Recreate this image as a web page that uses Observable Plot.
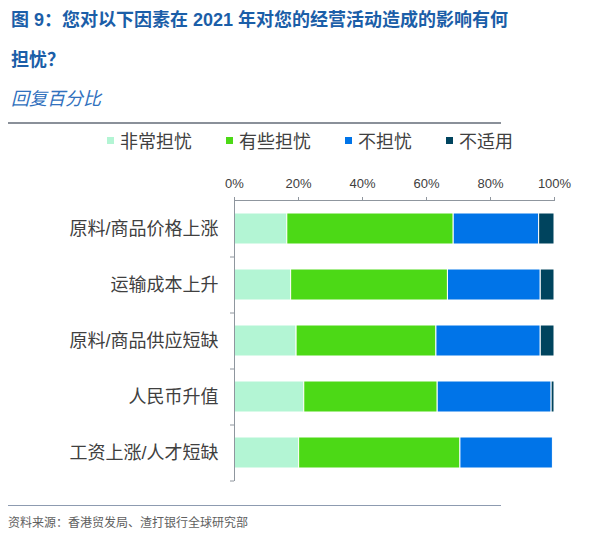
<!DOCTYPE html>
<html>
<head>
<meta charset="utf-8">
<script src="https://cdn.jsdelivr.net/npm/d3@7"></script>
<script src="https://cdn.jsdelivr.net/npm/@observablehq/plot@0.6"></script>
<style>
  html, body { margin: 0; padding: 0; background: #fff; }
  body { width: 616px; height: 554px; position: relative; overflow: hidden;
         font-family: "Liberation Sans", Arial, "Noto Sans CJK SC", sans-serif; }
  .abs { position: absolute; }
  #title { left: 11px; top: 0px; font-size: 18px; line-height: 40px; font-weight: bold; color: #1b5ea8; white-space: nowrap; }
  #subtitle { left: 11px; top: 86px; font-size: 18px; line-height: 26px; font-style: italic; color: #3070bd; }
  #rule1 { left: 8px; top: 122px; width: 493px; height: 2px; background: #8a9099; }
  #legend { left: 107px; top: 129px; height: 22px; display: flex; align-items: center; font-size: 18px; color: #404040; }
  .item { display: flex; align-items: center; margin-right: 34px; }
  .sw { width: 7px; height: 7px; margin-right: 6px; }
  #chart { left: 0; top: 150px; }
  #rule2 { left: 8px; top: 505px; width: 493px; height: 1px; background: #8d9bb0; }
  #source { left: 8px; top: 514px; font-size: 12px; line-height: 18px; color: #606060; }
</style>
</head>
<body>
<div id="title" class="abs">图 9：您对以下因素在 2021 年对您的经营活动造成的影响有何<br>担忧？</div>
<div id="subtitle" class="abs">回复百分比</div>
<div id="rule1" class="abs"></div>
<div id="legend" class="abs"></div>
<div id="chart" class="abs"></div>
<div id="rule2" class="abs"></div>
<div id="source" class="abs">资料来源：香港贸发局、渣打银行全球研究部</div>
<script>
// ---- data ----
const categories = ["原料/商品价格上涨", "运输成本上升", "原料/商品供应短缺", "人民币升值", "工资上涨/人才短缺"];
const series = ["非常担忧", "有些担忧", "不担忧", "不适用"];
const veryWorried   = [16.5, 17.7, 19.4, 21.8, 20.2];
const someWorried   = [52.0, 49.0, 43.7, 41.7, 50.4];
const notWorried    = [26.7, 29.0, 32.6, 35.6, 28.9];
const notApplicable = [4.8, 4.3, 4.3, 0.9, 0.0];
const xTicks = [0, 20, 40, 60, 80, 100];

// ---- styles ----
const colors = ["#b3f5d4", "#4cd916", "#0074e8", "#00445e"];

const seriesValues = [veryWorried, someWorried, notWorried, notApplicable];
const rows = [];
categories.forEach((c, i) => {
  series.forEach((s, j) => rows.push({category: c, series: s, value: seriesValues[j][i]}));
});

// legend
const legend = document.getElementById("legend");
series.forEach((s, j) => {
  const it = document.createElement("div");
  it.className = "item";
  const sw = document.createElement("div");
  sw.className = "sw";
  sw.style.background = colors[j];
  const t = document.createElement("span");
  t.textContent = s;
  it.appendChild(sw); it.appendChild(t);
  legend.appendChild(it);
});

const axisColor = "#8f969e";
const chart = Plot.plot({
  width: 616,
  height: 340,
  marginTop: 50,
  marginBottom: 10,
  marginLeft: 234,
  marginRight: 62,
  style: {fontFamily: '"Liberation Sans", Arial, "Noto Sans CJK SC", sans-serif', fontSize: "13px", color: "#404040", background: "transparent"},
  x: {domain: [0, 100], axis: null, label: null},
  y: {domain: categories, paddingInner: 0.45, paddingOuter: 0.225, axis: null, label: null},
  color: {domain: series, range: colors},
  marks: [
    Plot.barX(rows, Plot.stackX({y: "category", x: "value", fill: "series", order: series, stroke: "white", strokeWidth: 1})),
    Plot.frame({anchor: "top", stroke: axisColor}),
    Plot.frame({anchor: "left", stroke: axisColor}),
    Plot.axisX({anchor: "top", ticks: xTicks, tickSize: 4, tickPadding: 9, tickFormat: d => d + "%", stroke: axisColor, fill: "#404040", fontSize: 13, label: null}),
    Plot.axisY({anchor: "left", tickSize: 4, tickFormat: () => "", dy: 28, stroke: axisColor, label: null}),
    Plot.axisY({anchor: "left", tickSize: 0, tickPadding: 16, fontSize: 18, fill: "#404040", label: null})
  ]
});
document.getElementById("chart").appendChild(chart);
</script>
</body>
</html>
